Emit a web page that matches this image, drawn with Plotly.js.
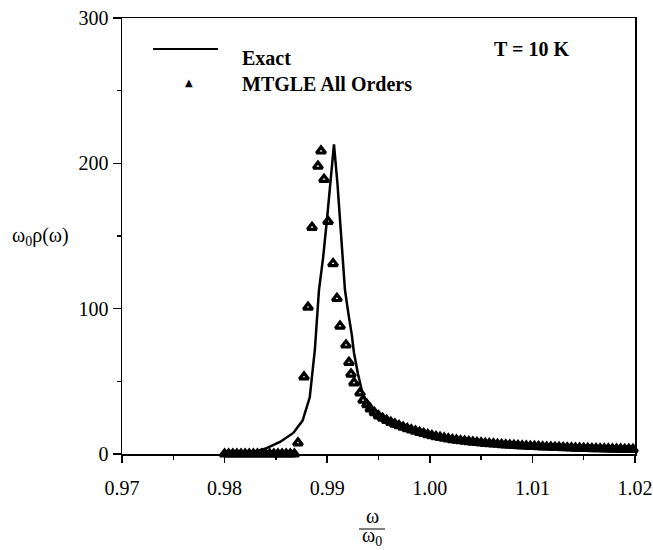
<!DOCTYPE html>
<html>
<head>
<meta charset="utf-8">
<script src="https://cdn.plot.ly/plotly-3.0.1.min.js"></script>
<style>html,body{margin:0;padding:0;background:#fff;}#plot{width:653px;height:550px;}</style>
</head>
<body>
<div id="plot"></div>
<script>
// Exact curve (omega/omega0, omega0*rho)
var exactX = [0.9800, 0.9825, 0.9841, 0.9854, 0.9867, 0.9876, 0.9883, 0.9888, 0.9892, 0.9896, 0.9900, 0.9903, 0.99066, 0.9910, 0.99154, 0.99173, 0.9921, 0.9924, 0.9926, 0.9930, 0.9934, 0.9938, 0.9942, 0.9950, 0.9960, 0.9970, 0.9980, 0.9990, 1.0000, 1.0025, 1.0050, 1.0075, 1.0100, 1.0125, 1.0150, 1.0175, 1.0200];
var exactY = [0.2, 0.7, 4, 8.3, 14.5, 23, 39, 72, 113, 135, 163, 186, 213, 186, 133, 113, 95, 82, 70, 55, 43, 36, 31, 25, 20, 17.5, 15.5, 13.8, 12.3, 9.3, 7.3, 5.9, 4.9, 4.2, 3.7, 3.2, 2.9];

// MTGLE All Orders (triangles)
var mtgleX = [0.9800, 0.9804, 0.9808, 0.9812, 0.9816, 0.9820, 0.9824, 0.9828, 0.9832, 0.9836, 0.9840, 0.9844, 0.9848, 0.9852, 0.9856, 0.9860, 0.9864, 0.9868,
  0.98715, 0.98774, 0.98813, 0.98852, 0.98910, 0.98940, 0.98969, 0.99008, 0.99057, 0.99095, 0.99125, 0.99183, 0.99212, 0.99232, 0.99261, 0.9932, 0.9935, 0.99388,
  0.9942, 0.9946, 0.9950, 0.9954, 0.9958, 0.9962, 0.9966, 0.9970, 0.9974, 0.9978, 0.9982, 0.9986, 0.9990, 0.9994, 0.9998,
  1.0002, 1.0006, 1.0010, 1.0014, 1.0018, 1.0022, 1.0026, 1.0030, 1.0034, 1.0038, 1.0042, 1.0046, 1.0050, 1.0054, 1.0058,
  1.0062, 1.0066, 1.0070, 1.0074, 1.0078, 1.0082, 1.0086, 1.0090, 1.0094, 1.0098, 1.0102, 1.0106, 1.0110, 1.0114, 1.0118,
  1.0122, 1.0126, 1.0130, 1.0134, 1.0138, 1.0142, 1.0146, 1.0150, 1.0154, 1.0158, 1.0162, 1.0166, 1.0170, 1.0174, 1.0178,
  1.0182, 1.0186, 1.0190, 1.0194, 1.0198];
var mtgleY = [0, 0, 0, 0, 0, 0, 0, 0, 0, 0, 0, 0, 0, 0, 0, 0, 0, 0,
  7.6, 53, 101, 156, 198, 208.5, 189, 160, 131, 107, 88, 75, 63, 55, 49, 42, 37, 34,
  31, 28.5, 26.3, 24.6, 23.1, 21.8, 20.6, 19.5, 18.5, 17.5, 16.6, 15.7, 14.9, 14.1, 13.3,
  12.6, 12.0, 11.4, 10.9, 10.4, 9.9, 9.5, 9.1, 8.8, 8.5, 8.2, 7.9, 7.6, 7.3, 7.1,
  6.9, 6.7, 6.5, 6.3, 6.1, 5.9, 5.8, 5.6, 5.5, 5.3, 5.2, 5.1, 4.9, 4.8, 4.7,
  4.6, 4.5, 4.4, 4.3, 4.2, 4.1, 4.0, 3.9, 3.8, 3.7, 3.7, 3.6, 3.5, 3.5, 3.4,
  3.3, 3.3, 3.2, 3.2, 3.1];

var xTickVals = [0.97, 0.98, 0.99, 1.00, 1.01, 1.02];
var xTickText = ["0.97", "0.98", "0.99", "1.00", "1.01", "1.02"];
var yTickVals = [0, 100, 200, 300];
var yTickText = ["0", "100", "200", "300"];

var serif = "Liberation Serif";

var traces = [
  {x: exactX, y: exactY, type: 'scatter', mode: 'lines', name: 'Exact',
   line: {color: '#000', width: 2.5}, cliponaxis: false, showlegend: false},
  {x: mtgleX, y: mtgleY, type: 'scatter', mode: 'markers', name: 'MTGLE All Orders',
   marker: {symbol: 'triangle-up-open', size: 8, color: '#000', line: {width: 3.2, color: '#000'}},
   cliponaxis: false, showlegend: false}
];

function px(p){ return (p - 122) / 513; }
function py(p){ return (454 - p) / 436; }

var layout = {
  width: 653, height: 550,
  margin: {l: 122, r: 18, t: 18, b: 96},
  paper_bgcolor: '#fff', plot_bgcolor: '#fff',
  font: {family: serif, size: 20, color: '#000'},
  showlegend: false,
  xaxis: {
    range: [0.97, 1.02], tickmode: 'array', tickvals: xTickVals, ticktext: xTickText,
    ticks: 'outside', ticklen: 7, tickwidth: 1.5, tickcolor: '#000', ticklabelstandoff: 8,
    showline: true, linecolor: '#000', linewidth: 1.5, mirror: true,
    showgrid: false, zeroline: false,
    minor: {tickvals: [0.975, 0.985, 0.995, 1.005, 1.015], ticks: 'outside', ticklen: 4, tickwidth: 1.5, tickcolor: '#000', showgrid: false},
    tickfont: {family: serif, size: 20, color: '#000'}
  },
  yaxis: {
    range: [0, 300], tickmode: 'array', tickvals: yTickVals, ticktext: yTickText,
    ticks: 'outside', ticklen: 8, tickwidth: 1.5, tickcolor: '#000',
    showline: true, linecolor: '#000', linewidth: 1.5, mirror: true,
    showgrid: false, zeroline: false,
    minor: {tickvals: [50, 150, 250], ticks: 'outside', ticklen: 4, tickwidth: 1.5, tickcolor: '#000', showgrid: false},
    tickfont: {family: serif, size: 20, color: '#000'}
  },
  shapes: [
    {type: 'line', xref: 'paper', yref: 'paper', x0: px(153), x1: px(218), y0: py(49), y1: py(49), line: {color: '#000', width: 2}},
    {type: 'line', xref: 'paper', yref: 'paper', x0: px(359), x1: px(385), y0: py(529), y1: py(529), line: {color: '#000', width: 1}}
  ],
  annotations: [
    {xref: 'paper', yref: 'paper', x: px(240), y: py(58), xanchor: 'left', yanchor: 'middle', showarrow: false,
     text: '<b>Exact</b>', font: {family: serif, size: 20, color: '#000'}},
    {xref: 'paper', yref: 'paper', x: px(189), y: py(82), xanchor: 'center', yanchor: 'middle', showarrow: false,
     text: '▲', font: {family: 'DejaVu Sans', size: 10, color: '#000'}},
    {xref: 'paper', yref: 'paper', x: px(240), y: py(84), xanchor: 'left', yanchor: 'middle', showarrow: false,
     text: '<b>MTGLE All Orders</b>', font: {family: serif, size: 20, color: '#000'}},
    {xref: 'paper', yref: 'paper', x: px(492), y: py(48.5), xanchor: 'left', yanchor: 'middle', showarrow: false,
     text: '<b>T = 10 K</b>', font: {family: serif, size: 20, color: '#000'}},
    {xref: 'paper', yref: 'paper', x: px(40), y: py(236), xanchor: 'center', yanchor: 'middle', showarrow: false,
     text: 'ω<sub>0</sub>ρ(ω)', font: {family: serif, size: 20, color: '#000'}},
    {xref: 'paper', yref: 'paper', x: px(372), y: py(516), xanchor: 'center', yanchor: 'middle', showarrow: false,
     text: 'ω', font: {family: serif, size: 20, color: '#000'}},
    {xref: 'paper', yref: 'paper', x: px(372), y: py(536), xanchor: 'center', yanchor: 'middle', showarrow: false,
     text: 'ω<sub>0</sub>', font: {family: serif, size: 20, color: '#000'}}
  ]
};

Plotly.newPlot('plot', traces, layout, {displayModeBar: false, staticPlot: true});
</script>
</body>
</html>
